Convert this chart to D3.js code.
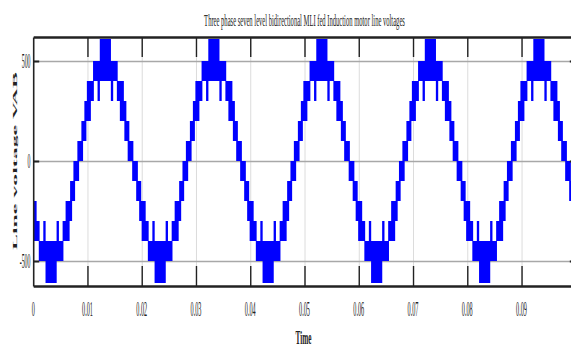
<!DOCTYPE html>
<html>
<head>
<meta charset="utf-8">
<script src="https://cdn.jsdelivr.net/npm/d3@7"></script>
<style>
body{margin:0;background:#fff}
svg{display:block}
text{font-family:"Liberation Serif","Times New Roman",serif;fill:#222}
</style>
</head>
<body>
<svg id="chart" width="571" height="348"></svg>
<script>
// axis ticks
let xTicks=[0,0.01,0.02,0.03,0.04,0.05,0.06,0.07,0.08,0.09]
let xLabels=["0","0.01","0.02","0.03","0.04","0.05","0.06","0.07","0.08","0.09"]
let yTicks=[-500,0,500]
let yLabels=["-500","0","500"]

// centres of the positive and negative half waves (s)
let peakTimes=[0.0133,0.0333,0.0532,0.0732,0.0932]
let troughTimes=[0.0033,0.0234,0.0433,0.0633,0.0832,0.1032]

// staircase bands of one half wave, offset from its centre (s), levels in V
let bandLow=[500,400,300,200,100,0]
let bandHigh=[610,500,400,300,200,100]
let bandFrom=[0,0,0.00212,0.00267,0.0035,0.00411]
let bandTo=[0.00103,0.00227,0.00341,0.00387,0.00442,0.00516]
// thin notches next to the crest
let notchLow=300, notchHigh=400
let notchFrom=0.00101, notchTo=0.00144

let svg=d3.select("#chart")
let pl=33.2, pr=575.8, pt=37, pb=286
let x=d3.scaleLinear().domain([0,0.1]).range([pl,pr])
let y=d3.scaleLinear().domain([-625,620]).range([pb,pt])

svg.append("defs").append("clipPath").attr("id","plot")
.append("rect").attr("x",pl).attr("y",pt)
.attr("width",pr-pl).attr("height",pb-pt)

// grid
let gx=svg.append("g").attr("transform","translate(0,"+pb+")")
.call(d3.axisBottom(x).tickValues(xTicks.slice(1)).tickSize(-(pb-pt)).tickFormat(""))
gx.select(".domain").remove()
gx.selectAll("line").attr("stroke","#dcdcdc").attr("stroke-width",1)

let gy=svg.append("g").attr("transform","translate("+pl+",0)")
.call(d3.axisLeft(y).tickValues(yTicks).tickSize(-(pr-pl)).tickFormat(""))
gy.select(".domain").remove()
gy.selectAll("line").attr("stroke","#a8a8a8").attr("stroke-width",1.6)

// waveform bands
let rects=[]
function addHalf(c,sign){
bandLow.forEach((lo,i)=>{
let v0=sign>0?lo:-bandHigh[i]
let v1=sign>0?bandHigh[i]:-lo
if(bandFrom[i]===0){
rects.push({t0:c-bandTo[i],t1:c+bandTo[i],v0:v0,v1:v1})
}else{
rects.push({t0:c-bandTo[i],t1:c-bandFrom[i],v0:v0,v1:v1})
rects.push({t0:c+bandFrom[i],t1:c+bandTo[i],v0:v0,v1:v1})
}
})
let n0=sign>0?notchLow:-notchHigh
let n1=sign>0?notchHigh:-notchLow
rects.push({t0:c-notchTo,t1:c-notchFrom,v0:n0,v1:n1})
rects.push({t0:c+notchFrom,t1:c+notchTo,v0:n0,v1:n1})
}
peakTimes.forEach(p=>addHalf(p,1))
troughTimes.forEach(p=>addHalf(p,-1))

svg.append("g").attr("clip-path","url(#plot)")
.selectAll("rect").data(rects).enter().append("rect")
.attr("x",d=>x(d.t0)).attr("width",d=>x(d.t1)-x(d.t0))
.attr("y",d=>y(d.v1)).attr("height",d=>y(d.v0)-y(d.v1))
.attr("fill","#0000ff")

// frame and inward ticks
let ab=svg.append("g").attr("transform","translate(0,"+pb+")")
.call(d3.axisBottom(x).tickValues(xTicks.slice(1)).tickSizeInner(-20).tickSizeOuter(0).tickFormat(""))
ab.select(".domain").attr("stroke","#222").attr("stroke-width",2.4)
ab.selectAll("line").attr("stroke","#222").attr("stroke-width",1.4)

let at=svg.append("g").attr("transform","translate(0,"+pt+")")
.call(d3.axisTop(x).tickValues(xTicks.slice(1)).tickSizeInner(-20).tickSizeOuter(0).tickFormat(""))
at.select(".domain").attr("stroke","#222").attr("stroke-width",2.4)
at.selectAll("line").attr("stroke","#222").attr("stroke-width",1.4)

let al=svg.append("g").attr("transform","translate("+pl+",0)")
.call(d3.axisLeft(y).tickValues(yTicks).tickSizeInner(-6).tickSizeOuter(0).tickFormat(""))
al.select(".domain").attr("stroke","#222").attr("stroke-width",1.6)
al.selectAll("line").attr("stroke","#222").attr("stroke-width",2)

let ar=svg.append("g").attr("transform","translate("+pr+",0)")
.call(d3.axisRight(y).tickValues(yTicks).tickSizeInner(-6).tickSizeOuter(0).tickFormat(""))
ar.select(".domain").attr("stroke","#222").attr("stroke-width",1.6)
ar.selectAll("line").attr("stroke","#222").attr("stroke-width",2)

// tick labels (squeezed serif as in the source figure)
xTicks.forEach((t,i)=>{
svg.append("text")
.attr("transform","translate("+x(t)+",316) scale(0.31,1)")
.attr("text-anchor","middle").attr("font-size",20)
.text(xLabels[i])
})
yTicks.forEach((t,i)=>{
svg.append("text")
.attr("transform","translate(30.5,"+(y(t)+7)+") scale(0.28,1)")
.attr("text-anchor","end").attr("font-size",21)
.text(yLabels[i])
})

// squeeze a text horizontally to a given width
function squeezed(cx,cy,str,size,weight,width){
let t=svg.append("text")
.attr("text-anchor","middle").attr("font-size",size).attr("font-weight",weight)
.text(str)
let w=t.node().getComputedTextLength()
t.attr("transform","translate("+cx+","+cy+") scale("+(width/w)+",1)")
return t
}

// title and axis labels
squeezed(304.5,26,"Three phase seven level bidirectional MLI fed Induction motor line voltages",17,"normal",201)
squeezed(303.5,344,"Time",19,"bold",16)

svg.append("text")
.attr("transform","translate(16.7,161) scale(0.3,1) rotate(-90)")
.attr("text-anchor","middle").attr("font-size",20).attr("font-weight","bold")
.attr("textLength",178).attr("lengthAdjust","spacingAndGlyphs")
.text("Line voltage VAB")
</script>
</body>
</html>
